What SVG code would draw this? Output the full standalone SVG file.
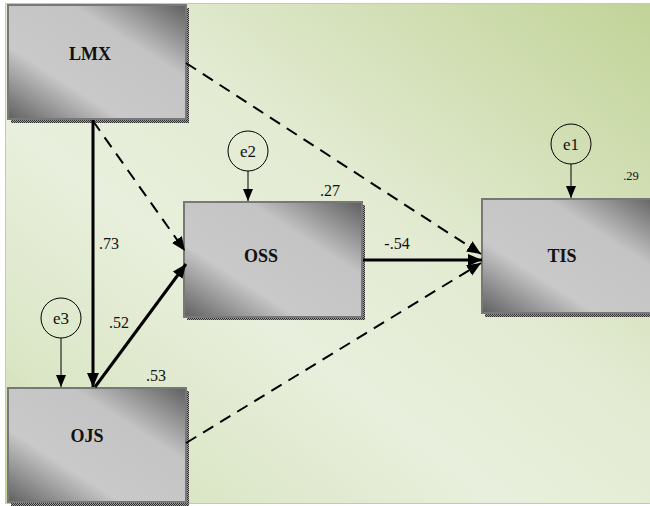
<svg xmlns="http://www.w3.org/2000/svg" width="650" height="506" viewBox="0 0 650 506">
  <defs>
    <linearGradient id="bg" x1="1" y1="0" x2="0" y2="1">
      <stop offset="0" stop-color="#c1d397"/>
      <stop offset="0.42" stop-color="#e3ebd3"/>
      <stop offset="0.62" stop-color="#e8efdc"/>
      <stop offset="0.85" stop-color="#dbe6c6"/>
      <stop offset="1" stop-color="#c4d69c"/>
    </linearGradient>
    <linearGradient id="boxfill" x1="1" y1="0" x2="0" y2="1">
      <stop offset="0" stop-color="#5f5f5f"/>
      <stop offset="0.32" stop-color="#c4c4c4"/>
      <stop offset="0.68" stop-color="#c9c9c9"/>
      <stop offset="1" stop-color="#606060"/>
    </linearGradient>
    <pattern id="dots" width="2" height="2" patternUnits="userSpaceOnUse">
      <rect width="2" height="2" fill="#9a9a9a"/>
      <rect width="1" height="1" fill="#333"/>
      <rect x="1" y="1" width="1" height="1" fill="#333"/>
    </pattern>
    <marker id="ahThick" markerUnits="userSpaceOnUse" markerWidth="16" markerHeight="14" refX="14" refY="6" orient="auto">
      <path d="M0,0 L14,6 L0,12 Z" fill="#000"/>
    </marker>
    <marker id="ahDash" markerUnits="userSpaceOnUse" markerWidth="16" markerHeight="14" refX="14" refY="6" orient="auto">
      <path d="M0,0 L14,6 L0,12 Z" fill="#000"/>
    </marker>
    <marker id="ahThin" markerUnits="userSpaceOnUse" markerWidth="14" markerHeight="12" refX="12" refY="5" orient="auto">
      <path d="M0,0 L12,5 L0,10 Z" fill="#000"/>
    </marker>
  </defs>
  <style>
    .shadow { fill: url(#dots); }
    .box { fill: url(#boxfill); stroke: #787878; stroke-width: 2; }
    .name { font-family: 'Liberation Serif', serif; font-weight: bold; font-size: 18px; fill: #111; text-anchor: middle; }
    .num { font-family: 'Liberation Serif', serif; font-size: 16px; fill: #111; text-anchor: middle; }
    .err { fill: none; stroke: #000; stroke-width: 1; }
    .errtxt { font-family: 'Liberation Serif', serif; font-size: 17px; fill: #111; text-anchor: middle; }
    .thick { stroke: #000; stroke-width: 3; fill: none; marker-end: url(#ahThick); }
    .dash { stroke: #000; stroke-width: 2; fill: none; stroke-dasharray: 12 8; marker-end: url(#ahDash); }
    .thin { stroke: #000; stroke-width: 1; fill: none; marker-end: url(#ahThin); }
  </style>

  <!-- page and panel background -->
  <rect width="650" height="506" fill="#ffffff"/>
  <rect x="5.5" y="3.5" width="650" height="500" fill="url(#bg)" stroke="#bfd196" stroke-width="1"/>

  <!-- observed variables -->
  <g id="node-LMX">
    <rect class="shadow" x="11" y="8" width="178" height="115"/>
    <rect class="box" x="8" y="5" width="178" height="114"/>
    <text class="name" x="90" y="60">LMX</text>
  </g>
  <g id="node-OSS">
    <rect class="shadow" x="187" y="205" width="178" height="115"/>
    <rect class="box" x="184" y="202" width="178" height="115"/>
    <text class="name" x="261" y="262">OSS</text>
    <text class="num" x="330" y="196">.27</text>
  </g>
  <g id="node-TIS">
    <rect class="shadow" x="485" y="202" width="178" height="115"/>
    <rect class="box" x="482" y="199" width="178" height="114"/>
    <text class="name" x="562" y="262">TIS</text>
    <text class="num" x="631" y="180" style="font-size:12.5px">.29</text>
  </g>
  <g id="node-OJS">
    <rect class="shadow" x="11" y="391" width="178" height="115"/>
    <rect class="box" x="8" y="388" width="178" height="114"/>
    <text class="name" x="87" y="442">OJS</text>
    <text class="num" x="156" y="381">.53</text>
  </g>

  <!-- error terms -->
  <g id="node-e1">
    <circle class="err" cx="571" cy="144" r="20"/>
    <text class="errtxt" x="571" y="150">e1</text>
  </g>
  <g id="node-e2">
    <circle class="err" cx="248" cy="151" r="20"/>
    <text class="errtxt" x="248" y="157">e2</text>
  </g>
  <g id="node-e3">
    <circle class="err" cx="61" cy="318" r="20"/>
    <text class="errtxt" x="61" y="324">e3</text>
  </g>

  <!-- paths -->
  <g id="connectors">
    <line class="thin" x1="571" y1="164" x2="571" y2="198"/>
    <line class="thin" x1="248" y1="171" x2="248" y2="201"/>
    <line class="thin" x1="61" y1="338" x2="61" y2="387"/>

    <line class="thick" x1="93" y1="120" x2="93" y2="387"/>
    <line class="thick" x1="95" y1="387" x2="186" y2="264"/>
    <line class="thick" x1="363" y1="260" x2="482" y2="260"/>

    <line class="dash" x1="93" y1="121" x2="185" y2="251"/>
    <line class="dash" x1="186" y1="63" x2="481" y2="254"/>
    <line class="dash" x1="186" y1="443" x2="481" y2="263"/>

    <text class="num" x="109" y="249">.73</text>
    <text class="num" x="119" y="328">.52</text>
    <text class="num" x="397" y="249">-.54</text>
  </g>
</svg>
